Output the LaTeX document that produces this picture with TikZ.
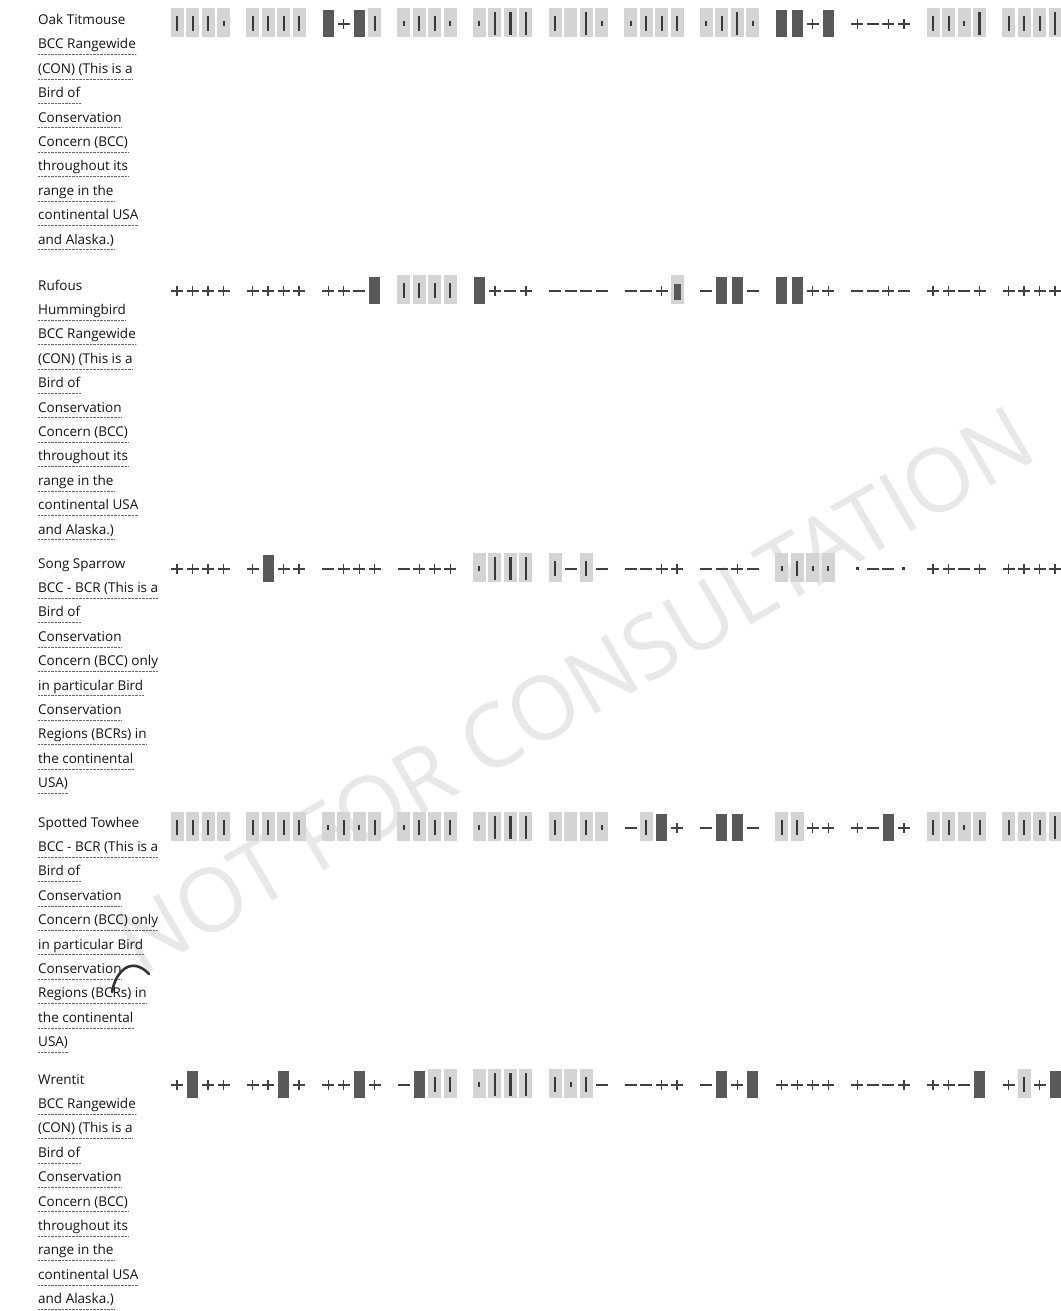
\documentclass[tikz,border=0pt]{standalone}
\usepackage{fontspec}
\setmainfont{Open Sans}
\tikzset{
  bgc/.style={fill=black!17},
  barc/.style={fill=black!65},
  tickc/.style={fill=black!78},
  mk/.style={draw=black!75, line width=1.3pt},
  lbl/.style={anchor=base west, inner sep=0pt, text depth=5.5pt, font=\fontsize{13.5}{15}\selectfont, text=black!92},
  uline/.style={draw=black!60, line width=0.8pt, dash pattern=on 0.7pt off 0.7pt},
  wmark/.style={rotate=30, text=black!9, inner sep=0pt, font=\fontsize{88}{88}\selectfont},
  stamp/.style={draw=black!80, line width=2.6pt, line cap=round}
}
\newcommand\ipcbg[2]{\fill[bgc] ({#1-6.5},{#2-15}) rectangle ({#1+6.5},{#2+14});}
\newcommand\ipct[2]{\ipcbg{#1}{#2}\fill[tickc] ({#1-1},{#2-7}) rectangle ({#1+1},{#2+8});}
\newcommand\ipcT[2]{\ipcbg{#1}{#2}\fill[tickc] ({#1-1.1},{#2-11}) rectangle ({#1+1.1},{#2+12});}
\newcommand\ipcd[2]{\ipcbg{#1}{#2}\fill[tickc] ({#1-1},{#2-2}) rectangle ({#1+1},{#2+3});}
\newcommand\ipce[2]{\ipcbg{#1}{#2}}
\newcommand\ipcB[2]{\fill[barc] ({#1-5.5},{#2-13}) rectangle ({#1+5.5},{#2+14});}
\newcommand\ipcb[2]{\ipcbg{#1}{#2}\fill[barc] ({#1-3.5},{#2-6}) rectangle ({#1+3.5},{#2+10});}
\newcommand\ipcp[2]{\draw[mk] ({#1-6},{#2+1}) -- ({#1+6},{#2+1}); \draw[mk] ({#1},{#2-4}) -- ({#1},{#2+6});}
\newcommand\ipcm[2]{\draw[mk] ({#1-6},{#2+1}) -- ({#1+6},{#2+1});}
\newcommand\ipco[2]{\fill[tickc] ({#1-1.5},{#2-1}) rectangle ({#1+1.5},{#2+2});}
\newcommand\ipcrow[2]{\foreach \cc [count=\ii from 0] in {#2} {\pgfmathsetmacro\xx{177+75.6*floor(\ii/4)+15.5*mod(\ii,4)}\csname ipc\cc\endcsname{\xx}{#1}}}
\newcommand\ipclabel[3]{\foreach \lbltext [count=\k from 0] in {#3} {%
  \node[lbl] (#1l\k) at (38,{#2+24.4*\k}) {\lbltext};
  \ifnum\k>0 \draw[uline] (#1l\k.south west) -- (#1l\k.south east);\fi}}
\begin{document}
\begin{tikzpicture}[x=1pt,y=-1pt]
\fill[white] (0,0) rectangle (1060,1311);
\useasboundingbox (0,0) rectangle (1060,1311);
\node[wmark] (wm) at (575,690) {NOT FOR CONSULTATION};
% labels
\ipclabel{a}{24.5}{Oak Titmouse,BCC Rangewide,(CON) (This is a,Bird of,Conservation,Concern (BCC),throughout its,range in the,continental USA,and Alaska.)}
\ipclabel{b}{290}{Rufous,Hummingbird,BCC Rangewide,(CON) (This is a,Bird of,Conservation,Concern (BCC),throughout its,range in the,continental USA,and Alaska.)}
\ipclabel{c}{568}{Song Sparrow,BCC - BCR (This is a,Bird of,Conservation,Concern (BCC) only,in particular Bird,Conservation,Regions (BCRs) in,the continental,USA)}
\ipclabel{d}{827}{Spotted Towhee,BCC - BCR (This is a,Bird of,Conservation,Concern (BCC) only,in particular Bird,Conservation,Regions (BCRs) in,the continental,USA)}
\ipclabel{e}{1084}{Wrentit,BCC Rangewide,(CON) (This is a,Bird of,Conservation,Concern (BCC),throughout its,range in the,continental USA,and Alaska.)}
% charts
\ipcrow{23}{t,t,t,d,t,t,t,t,B,p,B,t,d,t,t,d,d,T,T,T,t,e,T,d,d,t,t,t,d,t,T,d,B,B,p,B,p,m,p,p,t,t,d,T,t,t,t,T}
\ipcrow{290}{p,p,p,p,p,p,p,p,p,p,m,B,t,t,t,t,B,p,m,p,m,m,m,m,m,m,p,b,m,B,B,m,B,B,p,p,m,m,p,m,p,p,m,p,p,p,p,p}
\ipcrow{568}{p,p,p,p,p,B,p,p,m,p,p,p,m,p,p,p,d,T,T,T,t,m,t,m,m,m,p,p,m,m,p,m,d,t,d,d,o,m,m,o,p,p,m,p,p,p,p,p}
\ipcrow{827}{t,t,t,t,t,t,t,t,d,t,d,t,d,t,t,t,d,T,T,T,t,e,t,d,m,t,B,p,m,B,B,m,t,t,p,p,p,m,B,p,t,t,d,t,t,t,t,T}
\ipcrow{1084}{p,B,p,p,p,p,B,p,p,p,B,p,m,B,t,t,d,T,T,T,t,d,t,m,m,m,p,p,m,B,p,B,p,p,p,p,p,m,m,p,p,p,m,B,p,t,p,B}
\draw[stamp] (112,992) .. controls (116,970) and (132,956) .. (149,974);
\end{tikzpicture}
\end{document}
